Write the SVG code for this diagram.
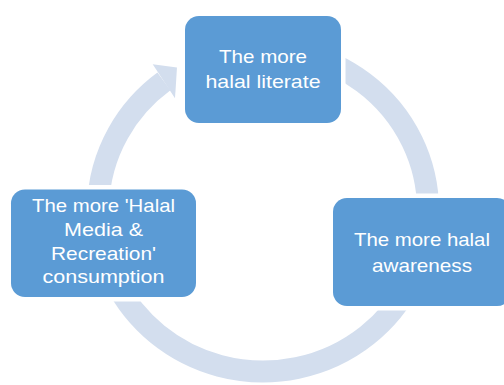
<svg xmlns="http://www.w3.org/2000/svg" width="504" height="385" viewBox="0 0 504 385">
  <style>
    .ring { fill: none; stroke: #d3deee; stroke-width: 22; stroke-linecap: butt; }
    .head { fill: #d3deee; }
    .box { fill: #5b9bd5; stroke: #ffffff; stroke-width: 9; paint-order: stroke; }
    .lbl { font-family: "Liberation Sans", Arial, sans-serif; font-size: 18.5px; fill: #ffffff; text-anchor: middle; }
  </style>
  <rect width="504" height="385" fill="#ffffff"/>
  <g id="connectors">
    <path class="ring" d="M 300.12 53.23 A 165 161.2 0 1 1 163.93 81.4"/>
    <polygon class="head" points="152.7,64.3 177,67.5 175,98.3"/>
  </g>
  <g id="node-literate">
    <rect class="box" x="185" y="16" width="156" height="107" rx="14" ry="14"/>
    <text class="lbl" x="263" y="63.3" textLength="88" lengthAdjust="spacingAndGlyphs">The more</text>
    <text class="lbl" x="263" y="88.3" textLength="115" lengthAdjust="spacingAndGlyphs">halal literate</text>
  </g>
  <g id="node-awareness">
    <rect class="box" x="333" y="198" width="178" height="108" rx="14" ry="14"/>
    <text class="lbl" x="422" y="246" textLength="136" lengthAdjust="spacingAndGlyphs">The more halal</text>
    <text class="lbl" x="422" y="271.7" textLength="100" lengthAdjust="spacingAndGlyphs">awareness</text>
  </g>
  <g id="node-consumption">
    <rect class="box" x="11" y="189.5" width="185" height="107.5" rx="14" ry="14"/>
    <text class="lbl" x="103.5" y="211.7" textLength="143" lengthAdjust="spacingAndGlyphs">The more 'Halal</text>
    <text class="lbl" x="103.5" y="235.5" textLength="79" lengthAdjust="spacingAndGlyphs">Media &amp;</text>
    <text class="lbl" x="103.5" y="259.7" textLength="105" lengthAdjust="spacingAndGlyphs">Recreation'</text>
    <text class="lbl" x="103.5" y="283.3" textLength="122" lengthAdjust="spacingAndGlyphs">consumption</text>
  </g>
</svg>
